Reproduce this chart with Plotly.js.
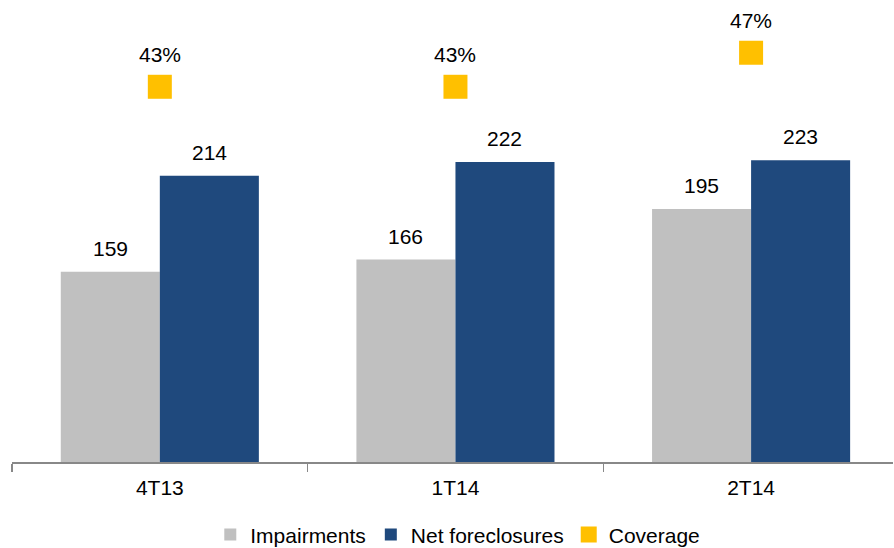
<!DOCTYPE html>
<html>
<head>
<meta charset="utf-8">
<script src="https://cdn.plot.ly/plotly-3.0.1.min.js"></script>
<style>html,body{margin:0;padding:0;background:#fff;}#chart{width:894px;height:548px;}</style>
</head>
<body>
<div id="chart"></div>
<script>
const categories = ["4T13", "1T14", "2T14"];
const impairments = [159, 166, 195];
const netForeclosures = [214, 222, 223];
const coverage = [43, 43, 47];
const coverageLabels = ["43%", "43%", "47%"];

const font = {family: "Arial, Liberation Sans, sans-serif", size: 21, color: "#000"};

const W = 894, H = 548;
const margin = {l: 12, r: 1, t: 0, b: 86};
const xRange = [-0.5, 2.48];
const bargap = 0.33;
// half-bar offset in pixels derived from the axis geometry
const catPx = (W - margin.l - margin.r) / (xRange[1] - xRange[0]);
const barPx = catPx * (1 - bargap) / 2;

const traces = [
  {
    type: "bar", name: "Impairments", x: categories, y: impairments,
    marker: {color: "#c0c0c0"}, hoverinfo: "none"
  },
  {
    type: "bar", name: "Net foreclosures", x: categories, y: netForeclosures,
    marker: {color: "#1f497d"}, hoverinfo: "none"
  },
  {
    type: "scatter", mode: "markers", name: "Coverage", x: categories, y: coverage,
    yaxis: "y2",
    marker: {symbol: "square", size: 24, color: "#ffc000"},
    cliponaxis: false, hoverinfo: "none"
  }
];

const annotations = [];
categories.forEach((c, i) => {
  annotations.push({x: c, y: impairments[i], xref: "x", yref: "y", text: String(impairments[i]),
    showarrow: false, xshift: -barPx / 2, yshift: 10, yanchor: "bottom", font: font});
  annotations.push({x: c, y: netForeclosures[i], xref: "x", yref: "y", text: String(netForeclosures[i]),
    showarrow: false, xshift: barPx / 2, yshift: 10, yanchor: "bottom", font: font});
  annotations.push({x: c, y: coverage[i], xref: "x", yref: "y2", text: coverageLabels[i],
    showarrow: false, yshift: 19, yanchor: "bottom", font: font});
});

const layout = {
  width: W, height: H,
  margin: margin,
  paper_bgcolor: "#fff", plot_bgcolor: "#fff",
  font: font,
  barmode: "group", bargap: bargap, bargroupgap: 0,
  showlegend: true,
  legend: {orientation: "h", x: 0.506, xanchor: "center", yref: "container", y: 0.024, yanchor: "middle",
           font: font, itemwidth: 30, tracegroupgap: 0},
  xaxis: {
    type: "category", range: xRange,
    showline: true, linecolor: "#888", linewidth: 1.5,
    ticks: "outside", tickson: "boundaries", ticklen: 8, tickcolor: "#888", tickwidth: 1.5,
    ticklabelstandoff: 6,
    showgrid: false, zeroline: false, tickfont: font
  },
  yaxis: {range: [50, 314.8], visible: false, showgrid: false, zeroline: false},
  yaxis2: {range: [-1.1, 53.2], overlaying: "y", visible: false, showgrid: false, zeroline: false},
  annotations: annotations
};

Plotly.newPlot("chart", traces, layout, {displayModeBar: false, staticPlot: true});
</script>
</body>
</html>
